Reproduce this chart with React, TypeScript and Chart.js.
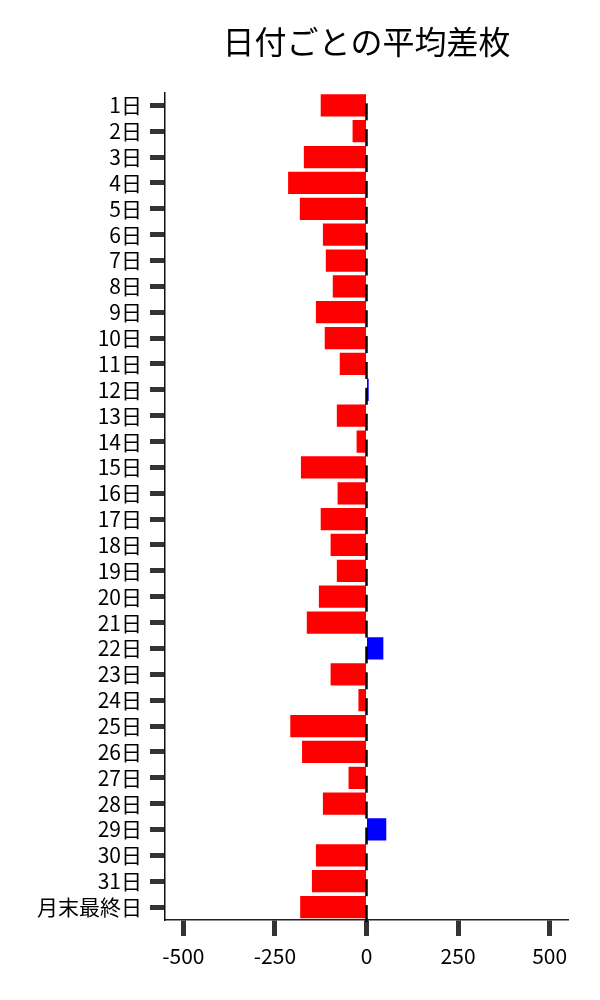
import { useEffect, useRef } from 'react';
import { Chart, registerables } from 'chart.js';

Chart.register(...registerables);

const days = [
  '1日', '2日', '3日', '4日', '5日', '6日', '7日', '8日', '9日', '10日',
  '11日', '12日', '13日', '14日', '15日', '16日', '17日', '18日', '19日', '20日',
  '21日', '22日', '23日', '24日', '25日', '26日', '27日', '28日', '29日', '30日',
  '31日', '月末最終日',
];

const avgDiff = [
  -125, -38, -171, -214, -182, -119, -111, -92, -138, -114,
  -73, 6, -81, -27, -179, -79, -125, -98, -81, -130,
  -163, 46, -98, -22, -208, -176, -49, -119, 54, -138,
  -149, -181,
];

const xTicks = [-500, -250, 0, 250, 500];

const FONT = "'Noto Sans CJK JP', 'Noto Sans', sans-serif";

// short black marks at zero on each row
const zeroMarks = {
  id: 'zeroMarks',
  afterDatasetsDraw(chart: Chart) {
    const { ctx } = chart;
    const x = chart.scales.x.getPixelForValue(0);
    const meta = chart.getDatasetMeta(0);
    ctx.save();
    ctx.strokeStyle = '#000';
    ctx.lineWidth = 2.5;
    meta.data.forEach((bar: any) => {
      ctx.beginPath();
      ctx.moveTo(x, bar.y - 2);
      ctx.lineTo(x, bar.y + 15);
      ctx.stroke();
    });
    ctx.restore();
  },
};

export default function App() {
  const canvasRef = useRef<HTMLCanvasElement>(null);

  useEffect(() => {
    document.body.style.margin = '0';
    if (!canvasRef.current) return;
    const chart = new Chart(canvasRef.current, {
      type: 'bar',
      data: {
        labels: days,
        datasets: [{
          data: avgDiff,
          backgroundColor: avgDiff.map(v => (v >= 0 ? '#0000ff' : '#ff0000')),
          borderWidth: 0,
          barPercentage: 0.86,
          categoryPercentage: 1,
        }],
      },
      options: {
        indexAxis: 'y',
        animation: false,
        responsive: false,
        layout: { padding: { top: 0, right: 32, bottom: 0, left: 0 } },
        plugins: {
          legend: { display: false },
          tooltip: { enabled: false },
          title: {
            display: true,
            text: '日付ごとの平均差枚',
            fullSize: false,
            color: '#000',
            font: { family: FONT, size: 32, weight: 'normal' },
            padding: { top: 23, bottom: 31 },
          },
        },
        scales: {
          x: {
            min: -550,
            max: 550,
            afterBuildTicks: (axis: any) => { axis.ticks = xTicks.map(v => ({ value: v })); },
            afterFit: (axis: any) => { axis.height = 80; },
            grid: { drawOnChartArea: false, tickLength: 16, tickWidth: 5, tickColor: '#333' },
            border: { color: '#222', width: 1.5 },
            ticks: { color: '#000', padding: 7, font: { family: FONT, size: 21 } },
          },
          y: {
            afterFit: (axis: any) => { axis.width = 165; },
            grid: { offset: false, drawOnChartArea: false, tickLength: 15, tickWidth: 5, tickColor: '#333' },
            border: { color: '#111', width: 1.5 },
            ticks: { color: '#000', padding: 8, autoSkip: false, font: { family: FONT, size: 21 } },
          },
        },
      },
      plugins: [zeroMarks],
    });
    return () => chart.destroy();
  }, []);

  return (
    <div style={{ width: 600, height: 1000, background: '#fff' }}>
      <canvas ref={canvasRef} width={600} height={1000} />
    </div>
  );
}
